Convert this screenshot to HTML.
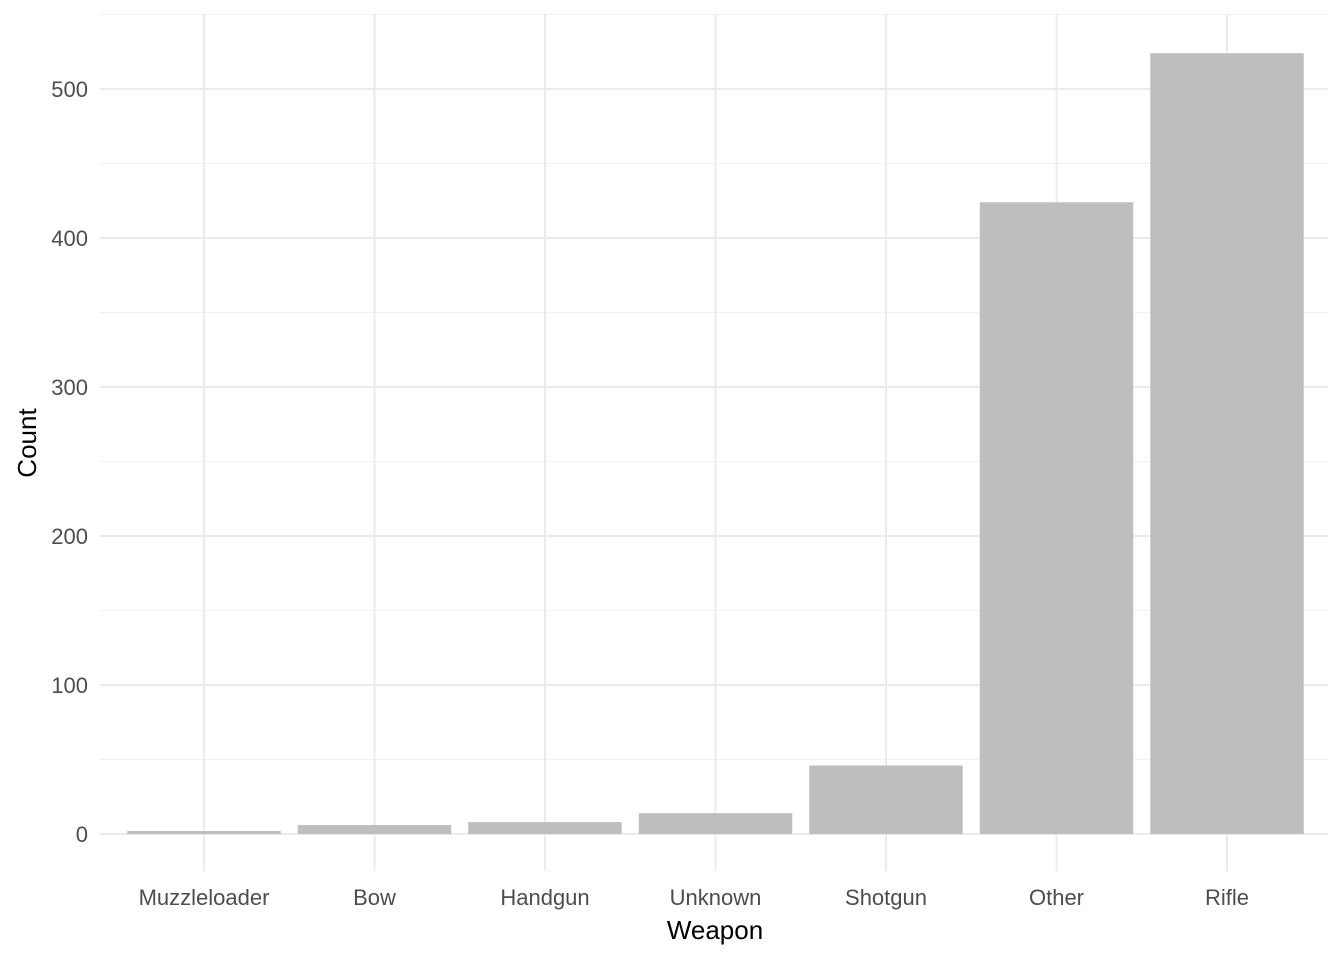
<!DOCTYPE html>
<html><head><meta charset="utf-8"><style>
body{margin:0;background:#fff;}
svg{display:block;font-family:"Liberation Sans",Arial,sans-serif;}
</style></head><body>
<svg id="chart" width="1344" height="960" xmlns="http://www.w3.org/2000/svg">
<g id="grid"></g>
<g id="bars"></g>
<g id="axes"></g>
<text x="715" y="939" font-size="26" text-anchor="middle" fill="#000">Weapon</text>
<text transform="translate(36,443) rotate(-90)" font-size="26" text-anchor="middle" fill="#000">Count</text>
</svg>
<script>
const categories = ["Muzzleloader","Bow","Handgun","Unknown","Shotgun","Other","Rifle"];
const counts = [2, 6, 8, 14, 46, 424, 524];
const yTicks = [0, 100, 200, 300, 400, 500];
const yMinor = [50, 150, 250, 350, 450, 550];

const NS = "http://www.w3.org/2000/svg";
const plotLeft = 100, plotRight = 1328, plotTop = 14, plotBottom = 871;
const y0px = 834, y500px = 89;
function yScale(v){ return y0px - v * (y0px - y500px) / 500; }
const firstCenter = 204, lastCenter = 1227;
const step = (lastCenter - firstCenter) / (categories.length - 1);
function xScale(i){ return firstCenter + step * i; }
const barW = step * 0.9;

function mk(tag, attrs, parent){
  const e = document.createElementNS(NS, tag);
  for (const k in attrs) e.setAttribute(k, attrs[k]);
  parent.appendChild(e);
  return e;
}
const grid = document.getElementById("grid");
const bars = document.getElementById("bars");
const axes = document.getElementById("axes");

yMinor.forEach(v => {
  const l = mk("line", {x1:plotLeft, x2:plotRight, y1:yScale(v), y2:yScale(v), stroke:"#f2f2f2", "stroke-width":1}, grid);
  
  
});
yTicks.forEach(v => {
  const l = mk("line", {x1:plotLeft, x2:plotRight, y1:yScale(v), y2:yScale(v), stroke:"#ebebeb", "stroke-width":2}, grid);
  
  
  const t = mk("text", {x:88, y:yScale(v)+8, "font-size":22, "text-anchor":"end", fill:"#4d4d4d"}, axes);
  t.textContent = v;
  
  
});
categories.forEach((c, i) => {
  const l = mk("line", {x1:xScale(i), x2:xScale(i), y1:plotTop, y2:plotBottom, stroke:"#ebebeb", "stroke-width":2}, grid);
  
  
  const r = mk("rect", {x:xScale(i)-barW/2, y:yScale(counts[i]), width:barW, height:yScale(0)-yScale(counts[i]), fill:"#bebebe"}, bars);
  
  
  const t = mk("text", {x:xScale(i), y:905, "font-size":22, "text-anchor":"middle", fill:"#4d4d4d"}, axes);
  t.textContent = c;
  
  
});
</script>
</body></html>
